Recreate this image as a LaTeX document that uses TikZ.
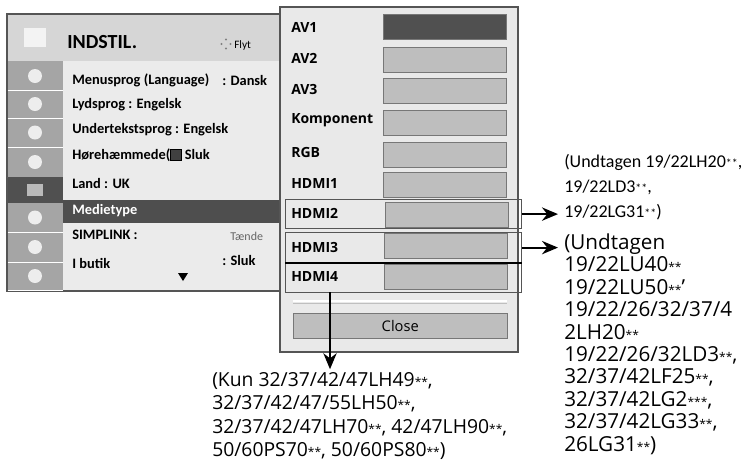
\documentclass[tikz,border=0pt]{standalone}
\usepackage{fontspec}
\setmainfont{Open Sans}
\newfontfamily\menufont{Carlito}
\usepackage{tikz}
\usetikzlibrary{arrows.meta,positioning,calc}
\definecolor{menubg}{RGB}{235, 235, 235}
\definecolor{titlebg}{RGB}{214, 214, 214}
\definecolor{iconbg}{RGB}{165, 165, 165}
\definecolor{icondark}{RGB}{80, 80, 80}
\definecolor{selbg}{RGB}{78, 78, 78}
\definecolor{popbg}{RGB}{233, 233, 233}
\definecolor{barbg}{RGB}{190, 190, 190}
\definecolor{framecol}{RGB}{85, 85, 85}
\tikzset{
  menuitem/.style={anchor=west, inner sep=0pt, font=\menufont\bfseries\fontsize{10.8}{12}\selectfont},
  poplabel/.style={anchor=west, inner sep=0pt, font=\bfseries\fontsize{10.5}{12}\selectfont},
  popbar/.style={draw=framecol!80, fill=barbg, minimum width=92.25pt, minimum height=18.5pt, inner sep=0pt, anchor=west},
  popframe/.style={draw=framecol, line width=0.9pt, minimum width=177pt, minimum height=21.75pt, inner sep=0pt, anchor=north west},
  note/.style={align=left, anchor=west, inner sep=0pt},
  bigarrow/.style={-{Stealth[length=12pt,width=10pt]}, line width=1.5pt}
}
\newcommand{\twostar}[1][**]{{\fontsize{9}{9}\selectfont #1}}
\begin{document}
\begin{tikzpicture}[x=0.75pt, y=-0.75pt]
\useasboundingbox (0,0) rectangle (742,465);
% Settings menu
\draw[framecol, fill=menubg, line width=0.8pt] (7,14) rectangle (282,291);
\fill[titlebg] (7.5,14.5) rectangle (281.5,61);
\fill[iconbg] (7.5,61) rectangle (63,290.5);
\foreach \ya/\yb in {62/90, 90/118, 118/147, 147/177, 203/232, 232/262, 262/290} {
  \draw[white, line width=0.6pt] (7.5,\yb) -- (63,\yb);
  \fill[white!80!iconbg] (35,{(\ya+\yb)/2}) circle (7);
}
\fill[icondark] (7.5,177) rectangle (63,203);
\fill[white!60!icondark] (27,184) rectangle (43,196);
\fill[white!70!titlebg] (24,28) rectangle (46,47);
\fill[selbg] (63,200) rectangle (281.5,223);
\node[anchor=west, inner sep=0pt, font=\menufont\bfseries\fontsize{15}{17}\selectfont] (title) at (67,42) {INDSTIL.};
\foreach \a in {0,90,180,270}
  \fill[gray] ($(226,44)+(\a:4.5)$) circle (1.2);
\node[anchor=west, inner sep=0pt, font=\menufont\fontsize{8.5}{10}\selectfont] (flyt) at (234,45) {Flyt};
\node[menuitem] (lang) at (72,80) {Menusprog (Language)};
\node[menuitem] at (222,80) {: Dansk};
\node[menuitem] (lyd) at (72,105) {Lydsprog : Engelsk};
\node[menuitem] (under) at (72,130) {Undertekstsprog : Engelsk};
\node[menuitem] (hore) at (72,155) {Hørehæmmede(\tikz[baseline=0pt]\draw[fill=black!75, draw=black] (0,-0.5pt) rectangle (8pt,7.5pt);\ Sluk};
\node[menuitem] (land) at (72,183) {Land : UK};
\node[menuitem, text=white] (medie) at (72,211) {Medietype};
\node[menuitem] (simp) at (72,235) {SIMPLINK :};
\node[anchor=west, inner sep=0pt, font=\menufont\fontsize{9}{10}\selectfont, text=black!60] at (230,236) {Tænde};
\node[menuitem] (butik) at (72,263) {I butik};
\node[menuitem] at (222,260) {: Sluk};
\fill (178,273) -- (188,273) -- (183,281) -- cycle;
% Input popup
\draw[framecol, fill=popbg, line width=1.2pt] (280,7) rectangle (518,352);
\node[popbar, fill=icondark] (avone) at (383,27) {};
\node[popbar] (avtwo) at (383,59.5) {};
\node[popbar] (avthree) at (383,90.5) {};
\node[popbar] (komp) at (383,122.5) {};
\node[popbar] (rgb) at (383,154.5) {};
\node[popbar] (hdmione) at (383,184.5) {};
\node[popbar] (hdmitwobar) at (385,214.5) {};
\node[popbar] (hdmithreebar) at (384,246) {};
\node[popbar] (hdmifourbar) at (384,277) {};
\node[poplabel] at (291,27) {AV1};
\node[poplabel] at (291,58) {AV2};
\node[poplabel] at (291,89) {AV3};
\node[poplabel] at (291,120) {Komponent};
\node[poplabel] at (291,152) {RGB};
\node[poplabel] at (291,183) {HDMI1};
\node[poplabel] at (291,213) {HDMI2};
\node[poplabel] at (291,247) {HDMI3};
\node[poplabel] at (291,276) {HDMI4};
\node[popframe] (hdmitwo) at (285,199) {};
\node[popframe, minimum height=22.5pt] (hdmithree) at (285,232) {};
\node[popframe, minimum height=22.5pt] (hdmifour) at (285,262) {};
\draw[black, line width=1.4pt] (hdmithree.south west) -- (hdmithree.south east);
\draw[white, line width=1.5pt] (293,301) -- (507,301);
\draw[black!25, line width=0.5pt] (293,303) -- (507,303);
\node[draw=framecol!80, fill=barbg, minimum width=160.5pt, minimum height=18.75pt, inner sep=0pt,
      font=\fontsize{11}{12}\selectfont, anchor=north west] (close) at (293,313) {Close};
% Notes
\node[note, font=\menufont\fontsize{13.5}{18.75}\selectfont] (undtagA) at (564,187)
  {(Undtagen 19/22LH20\twostar,\\19/22LD3\twostar,\\19/22LG31\twostar)};
\node[note, font=\fontsize{15.5}{16.8}\selectfont] (undtagB) at (564,344)
  {(Undtagen\\19/22LU40\twostar\\19/22LU50\twostar’\\19/22/26/32/37/4\\2LH20\twostar\\19/22/26/32LD3\twostar,\\32/37/42LF25\twostar,\\32/37/42LG2\twostar[***],\\32/37/42LG33\twostar,\\26LG31\twostar)};
\node[note, font=\fontsize{14.5}{17.5}\selectfont] (kun) at (212,416)
  {(Kun 32/37/42/47LH49\twostar,\\32/37/42/47/55LH50\twostar,\\32/37/42/47LH70\twostar, 42/47LH90\twostar,\\50/60PS70\twostar, 50/60PS80\twostar)};
% Arrows
\coordinate (dn) at (330,292);
\draw[bigarrow] (hdmitwo.east) -- ($(hdmitwo.east -| undtagA.west)+(-6,0)$);
\draw[bigarrow] (hdmithree.east) -- ($(hdmithree.east -| undtagB.west)+(-6,0)$);
\draw[bigarrow] (dn) -- ($(dn |- kun.north)+(0,-3)$);
\end{tikzpicture}
\end{document}
